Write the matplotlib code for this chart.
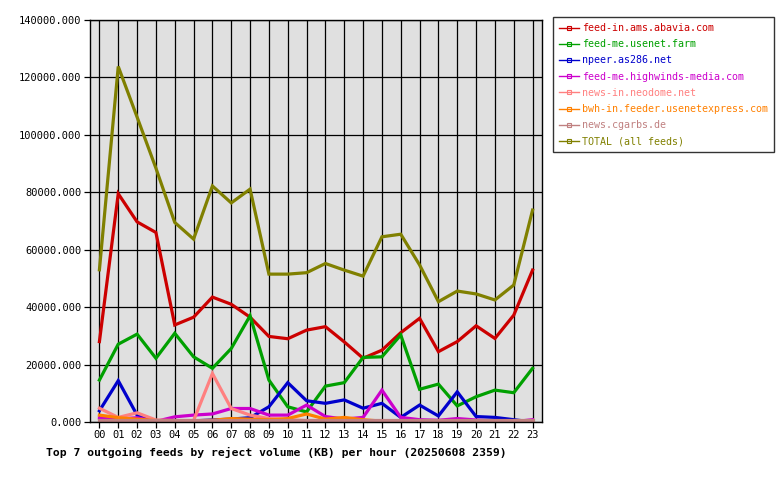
import numpy as np
import matplotlib
matplotlib.use("Agg")
import matplotlib.pyplot as plt
from matplotlib.lines import Line2D

plt.rcParams['font.family'] = ['DejaVu Sans Mono']

hours = ["%02d" % h for h in range(24)]

abavia = [28000, 79500, 69700, 66000, 33800, 36500, 43500, 41000, 36500, 29800, 29000, 32000,
          33200, 27900, 22200, 25000, 31100, 36100, 24500, 28000, 33500, 29100, 37200, 52900]
usenet_farm = [14600, 27100, 30600, 22200, 30900, 22700, 18700, 25600, 37000, 14600, 5300, 3500,
               12500, 13700, 22500, 22700, 30300, 11400, 13200, 5600, 8800, 11100, 10200, 18700]
as286 = [3900, 14400, 2400, 200, 300, 400, 700, 1000, 1500, 5300, 13700, 7400,
         6500, 7700, 4800, 6500, 1600, 5900, 2100, 10500, 1900, 1600, 800, 0]
highwinds = [1400, 1000, 1500, 200, 1800, 2400, 2800, 4700, 4700, 2400, 2400, 5900,
             1900, 1000, 1600, 11100, 1600, 800, 600, 1200, 700, 300, 100, 800]
neodome = [4800, 1600, 3200, 700, 500, 500, 16900, 4700, 2400, 1200, 800, 500,
           500, 400, 400, 400, 300, 300, 300, 300, 300, 300, 300, 300]
usenetexpress = [2400, 1500, 1000, 500, 400, 400, 600, 1200, 1000, 800, 1200, 2800,
                 1000, 1600, 800, 300, 300, 300, 300, 300, 300, 300, 300, 300]
cgarbs = [600, 600, 600, 600, 600, 600, 600, 600, 600, 600, 600, 600,
          600, 600, 600, 600, 600, 600, 600, 600, 600, 600, 600, 600]
total = [53000, 123800, 106200, 88400, 69500, 63700, 82200, 76300, 81100, 51500, 51500, 52000,
         55200, 52900, 50800, 64500, 65400, 54700, 41900, 45600, 44600, 42500, 47700, 73800]

names = ["feed-in.ams.abavia.com", "feed-me.usenet.farm", "npeer.as286.net",
         "feed-me.highwinds-media.com", "news-in.neodome.net",
         "bwh-in.feeder.usenetexpress.com", "news.cgarbs.de", "TOTAL (all feeds)"]
series = [abavia, usenet_farm, as286, highwinds, neodome, usenetexpress, cgarbs, total]
colors = ["#cc0000", "#00a000", "#0000cc", "#cc00cc", "#ff8080", "#ff8000", "#c08080", "#808000"]

fig = plt.figure(figsize=(7.8, 4.8), dpi=100)
ax = fig.add_axes([90/780, 58/480, 452/780, 402/480])
ax.set_facecolor("#e0e0e0")

x = np.arange(24)
for s, c in zip(series, colors):
    ax.plot(x, s, color=c, lw=2.3, solid_joinstyle='miter')

ax.set_xlim(-0.5, 23.5)
ax.set_ylim(0, 140000)
ax.set_xticks(x)
ax.set_xticklabels(hours, fontsize=7.5)
ax.set_yticks(np.arange(0, 140001, 20000))
ax.set_yticklabels(["%.3f" % v for v in np.arange(0, 140001, 20000)], fontsize=7.5)
ax.grid(True, color="black", lw=0.9)
ax.set_axisbelow(True)
ax.tick_params(length=4, width=0.9, colors="black", pad=2)
for sp in ax.spines.values():
    sp.set_linewidth(1)

handles = [Line2D([0], [0], color=c, lw=1, marker='s', markersize=2.5,
                  markerfacecolor='none', markeredgewidth=0.8) for c in colors]
leg = fig.legend(handles, names, loc='upper left', bbox_to_anchor=(553/780, 1 - 17/480),
                 fontsize=7.2, frameon=True, fancybox=False, edgecolor='black',
                 handlelength=2.0, handletextpad=0.3, labelspacing=0.62,
                 borderpad=0.6, borderaxespad=0)
leg.get_frame().set_linewidth(1)
for t, c in zip(leg.get_texts(), colors):
    t.set_color(c)

fig.text(46/780, 1 - 452/480, "Top 7 outgoing feeds by reject volume (KB) per hour (20250608 2359)",
         fontsize=8.2, fontweight='bold', va='center', ha='left')

fig.savefig("out.png", dpi=100)
